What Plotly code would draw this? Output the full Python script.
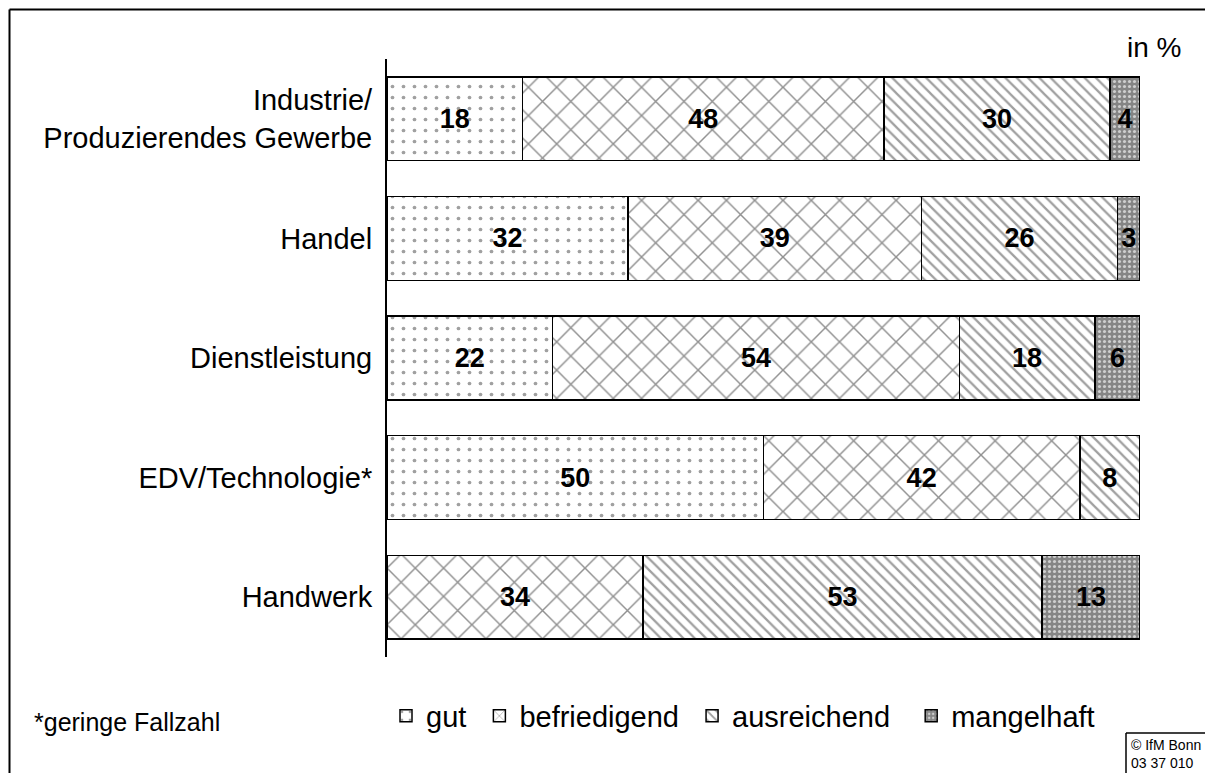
import plotly.graph_objects as go

# ---- data ----
categories = ["Industrie/<br>Produzierendes Gewerbe", "Handel", "Dienstleistung",
              "EDV/Technologie*", "Handwerk"]
gut = [18, 32, 22, 50, None]
befriedigend = [48, 39, 54, 42, 34]
ausreichend = [30, 26, 18, 8, 53]
mangelhaft = [4, 3, 6, None, 13]
series_names = ["gut", "befriedigend", "ausreichend", "mangelhaft"]

FONT = "Liberation Sans, Arial, sans-serif"

styles = {
    "gut": dict(bg="#ffffff", fg="#a0a0a0", shape=".", size=11, solidity=0.09, pad="\u00a0"),
    "befriedigend": dict(bg="#ffffff", fg="#909090", shape="x", size=20, solidity=0.14, pad="\u00a0"),
    "ausreichend": dict(bg="#ffffff", fg="#a0a0a0", shape="\\", size=8, solidity=0.28, pad="\u00a0\u00a0"),
    "mangelhaft": dict(bg="#858585", fg="#cfcfcf", shape=".", size=5, solidity=0.3, pad=""),
}

series_values = [gut, befriedigend, ausreichend, mangelhaft]

fig = go.Figure()
for name, vals in zip(series_names, series_values):
    st = styles[name]
    fig.add_trace(go.Bar(
        y=categories, x=vals, name=name + st["pad"], orientation="h",
        marker=dict(color=st["bg"], line=dict(color="black", width=1.5),
                    pattern=dict(shape=st["shape"], fgcolor=st["fg"], bgcolor=st["bg"],
                                 size=st["size"], solidity=st["solidity"],
                                 fillmode="replace")),
        texttemplate="%{x}", textposition="inside", insidetextanchor="middle",
        textangle=0, constraintext="none",
        textfont=dict(family=FONT, size=27, color="black", weight="bold"),
        hoverinfo="skip",
    ))

# page body has an 8px margin; lay out in window pixels, shifted by it
OFF = 8
W, H = 1213 - OFF, 773 - OFF
PL, PR, PT, PB = 387, 1140, 59, 657          # plot area in window pixels
L, T = PL - OFF, PT - OFF
R, B = W - (PR - OFF), H - (PB - OFF)
pw, ph = PR - PL, PB - PT

def px(x):
    return (x - PL) / pw

def py(y):
    return 1 - (y - PT) / ph

fig.update_layout(
    width=W, height=H,
    margin=dict(l=L, r=R, t=T, b=B),
    barmode="stack", bargap=0.3,
    plot_bgcolor="white", paper_bgcolor="white",
    font=dict(family=FONT, size=29, color="black"),
    showlegend=True,
    legend=dict(orientation="h", x=px(386), xanchor="left", y=py(716), yanchor="middle",
                font=dict(family=FONT, size=29, color="black"), traceorder="normal",
                bgcolor="rgba(0,0,0,0)"),
    xaxis=dict(range=[0, 100], visible=False, fixedrange=True),
    yaxis=dict(autorange="reversed", showline=True, linecolor="black", linewidth=2,
               ticks="", showgrid=False, zeroline=False, ticklabelstandoff=7,
               tickfont=dict(family=FONT, size=29, color="black")),
    uniformtext=dict(minsize=27, mode="show"),
)

# outer frame (top and left)
fig.add_shape(type="line", xref="paper", yref="paper", x0=px(9.5), x1=1.3, y0=py(9.5), y1=py(9.5),
              line=dict(color="black", width=2))
fig.add_shape(type="line", xref="paper", yref="paper", x0=px(9.5), x1=px(9.5), y0=py(9.5), y1=-0.4,
              line=dict(color="black", width=2))
# copyright box
fig.add_shape(type="line", xref="paper", yref="paper", x0=px(1126), x1=1.3, y0=py(733), y1=py(733),
              line=dict(color="black", width=1.5))
fig.add_shape(type="line", xref="paper", yref="paper", x0=px(1126), x1=px(1126), y0=py(733), y1=-0.4,
              line=dict(color="black", width=1.5))

fig.add_annotation(text="© IfM Bonn<br>03 37 010", xref="paper", yref="paper",
                   x=px(1129), y=py(735), xanchor="left", yanchor="top", showarrow=False,
                   align="left", font=dict(family=FONT, size=14, color="black"))
fig.add_annotation(text="in %", xref="paper", yref="paper", x=px(1183), y=py(48),
                   xanchor="right", yanchor="middle", showarrow=False,
                   font=dict(family=FONT, size=28, color="black"))
fig.add_annotation(text="*geringe Fallzahl", xref="paper", yref="paper", x=px(32), y=py(722),
                   xanchor="left", yanchor="middle", showarrow=False,
                   font=dict(family=FONT, size=25, color="black"))

fig.write_html("out.html")
